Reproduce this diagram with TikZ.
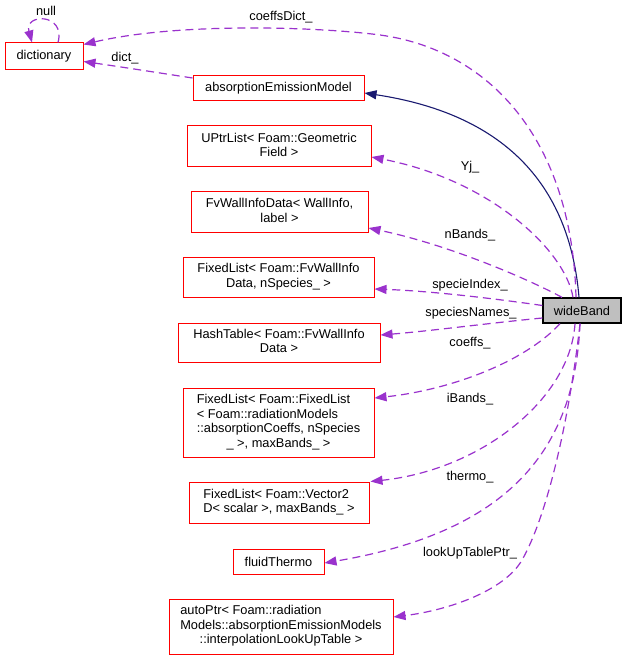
\documentclass[tikz,border=0pt]{standalone}
\usepackage{fontspec}
\setmainfont{Liberation Sans}
\usetikzlibrary{arrows.meta,calc}
\definecolor{memcol}{HTML}{9A32CD}
\definecolor{inhcol}{HTML}{191970}
\definecolor{wbgray}{HTML}{BFBFBF}
\newcommand{\lastln}[1]{\multicolumn{1}{@{}c@{}}{#1}}
\newcommand{\boxtxt}[1]{\begin{tabular}{@{}l@{}}#1\end{tabular}}
\tikzset{
  dfont/.style={font=\fontsize{12.8}{14.5}\selectfont},
  cls/.style={draw=red, line width=1pt, inner sep=0pt, dfont, align=center, fill=white},
  mainbox/.style={draw=black, line width=1.3pt, inner sep=0pt, dfont, fill=wbgray},
  mem/.style={draw=memcol, line width=1.2pt, dash pattern=on 8pt off 5pt, -{Triangle[length=12pt,width=9pt]}, fill=none},
  inh/.style={draw=inhcol, line width=1.1pt, -{Triangle[length=12pt,width=9pt]}},
  lbl/.style={dfont, inner sep=0pt}
}
\begin{document}
\begin{tikzpicture}[x=1pt,y=-1pt]
\useasboundingbox[fill=white] (0,0) rectangle (627,660);
% nodes
\node[cls, minimum width=78pt, minimum height=27pt] (dict) at (44,56.5) {dictionary};
\node[cls, minimum width=171pt, minimum height=25pt] (aem) at (278.5,88.5) {absorptionEmissionModel};
\node[mainbox, minimum width=78pt, minimum height=25pt] (wb) at (582,310.5) {wideBand};
\node[cls, minimum width=184pt, minimum height=41pt] (upl) at (279,146.5) {\boxtxt{UPtrList< Foam::Geometric\\ \lastln{Field >}}};
\node[cls, minimum width=177pt, minimum height=40pt] (fvw) at (279.5,212) {\boxtxt{FvWallInfoData< WallInfo,\\ \lastln{label >}}};
\node[cls, minimum width=191pt, minimum height=40pt] (fl1) at (278.5,277) {\boxtxt{FixedList< Foam::FvWallInfo\\ \lastln{Data, nSpecies\_ >}}};
\node[cls, minimum width=202pt, minimum height=39pt] (ht) at (279,342.5) {\boxtxt{HashTable< Foam::FvWallInfo\\ \lastln{Data >}}};
\node[cls, minimum width=191pt, minimum height=69pt] (fl2) at (278.5,422.5) {\boxtxt{FixedList< Foam::FixedList\\ < Foam::radiationModels\\ ::absorptionCoeffs, nSpecies\\ \lastln{\_ >, maxBands\_ >}}};
\node[cls, minimum width=180pt, minimum height=41pt] (v2) at (279,502.5) {\boxtxt{FixedList< Foam::Vector2\\ \lastln{D< scalar >, maxBands\_ >}}};
\node[cls, minimum width=91pt, minimum height=25pt] (ft) at (278.5,561.5) {fluidThermo};
\node[cls, minimum width=224pt, minimum height=55pt] (ap) at (281,626.5) {\boxtxt{autoPtr< Foam::radiation\\ Models::absorptionEmissionModels\\ \lastln{::interpolationLookUpTable >}}};
% connectors
\draw[inh] ($(wb.north)+(-3,0)$) .. controls (570,190) and (510,115) .. ($(aem.east)+(0,4.5)$);
\draw[mem] ($(wb.north)+(-6,0)$) .. controls (572,140) and (490,50) .. (380,35) .. controls (320,27) and (180,22) .. ($(dict.north east)+(0,2)$);
\node[lbl] (lcd) at (281,17) {coeffsDict\_};
\draw[mem] ($(aem.west)+(0,-10.5)$) .. controls (160,73) and (115,66) .. ($(dict.east)+(0,5)$);
\node[lbl] (ld) at (125,58) {dict\_};
\draw[mem] ($(dict.north)+(14,0)$) .. controls (66,13) and (24,13) .. ($(dict.north)+(-12,0)$);
\node[lbl] (ln) at (46,11) {null};
\draw[mem] ($(wb.north)+(-9,0)$) .. controls (565,250) and (490,180) .. ($(upl.east)+(0,10.5)$);
\node[lbl] (lyj) at (470,167) {Yj\_};
\draw[mem] ($(wb.north)+(-20,0)$) .. controls (530,280) and (450,245) .. ($(fvw.east)+(0,16)$);
\node[lbl] (lnb) at (470,235) {nBands\_};
\draw[mem] ($(wb.west)+(0,-5)$) .. controls (490,298) and (430,291) .. ($(fl1.east)+(0,12)$);
\node[lbl] (lsi) at (470,285) {specieIndex\_};
\draw[mem] ($(wb.west)+(0,7.5)$) .. controls (490,323) and (430,331) .. ($(ht.east)+(0,-7.5)$);
\node[lbl] (lsn) at (471,313) {speciesNames\_};
\draw[mem] ($(wb.south)+(-22,0)$) .. controls (525,362) and (450,390) .. ($(fl2.east)+(0,-24.5)$);
\node[lbl] (lco) at (470,343) {coeffs\_};
\draw[mem] ($(wb.south)+(-7,0)$) .. controls (570,400) and (480,470) .. ($(v2.east)+(1,-21)$);
\node[lbl] (lib) at (470,399) {iBands\_};
\draw[mem] ($(wb.south)+(-2,0)$) .. controls (575,440) and (520,530) .. ($(ft.east)+(0,1.5)$);
\node[lbl] (lth) at (470,477) {thermo\_};
\draw[mem] ($(wb.south)+(-2,0)$) .. controls (568,430) and (545,520) .. (522,560) .. controls (505,590) and (450,610) .. ($(ap.east)+(0,-9.5)$);
\node[lbl] (llu) at (470,553) {lookUpTablePtr\_};
\end{tikzpicture}
\end{document}
